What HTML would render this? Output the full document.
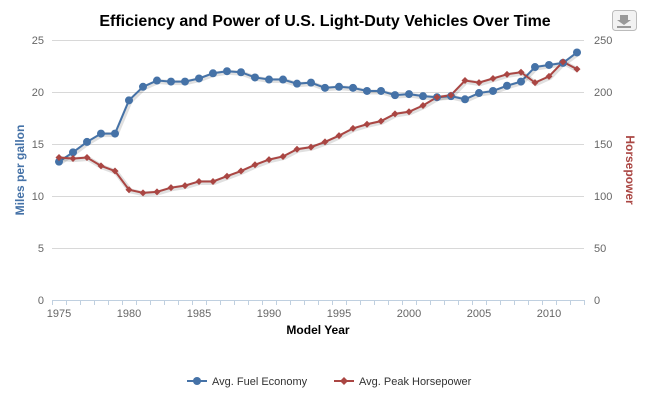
<!DOCTYPE html>
<html><head><style>body{margin:0;background:#fff}svg{display:block;font-family:"Liberation Sans",sans-serif}</style></head>
<body><svg id="s" width="650" height="400" xmlns="http://www.w3.org/2000/svg">
<text x="325" y="26" text-anchor="middle" font-size="16" font-weight="bold" fill="#000">Efficiency and Power of U.S. Light-Duty Vehicles Over Time</text>
<rect x="612.5" y="10.5" width="24" height="20" rx="3" fill="#f2f2f2" stroke="#bbb"/>
<path d="M620 15h8v5h3l-7 5-7-5h3z" fill="#999"/><rect x="617" y="26" width="14" height="2" fill="#999"/>
<g id="grid"></g>
<line x1="52" y1="300.5" x2="584" y2="300.5" stroke="#C0D0E0"/>
<text transform="translate(24,170) rotate(-90)" text-anchor="middle" font-size="12" font-weight="bold" fill="#4572A7">Miles per gallon</text>
<text transform="translate(626,170) rotate(90)" text-anchor="middle" font-size="12" font-weight="bold" fill="#AA4643">Horsepower</text>
<text x="318" y="334" text-anchor="middle" font-size="12" font-weight="bold" fill="#000">Model Year</text>
<g id="ser"></g>
<line x1="187" y1="381" x2="207" y2="381" stroke="#4572A7" stroke-width="2"/><circle cx="197" cy="381" r="4" fill="#4572A7"/>
<text x="212" y="385" font-size="11" fill="#333">Avg. Fuel Economy</text>
<line x1="334" y1="381" x2="354" y2="381" stroke="#AA4643" stroke-width="2"/><path d="M344 377l4 4-4 4-4-4z" fill="#AA4643"/>
<text x="359" y="385" font-size="11" fill="#333">Avg. Peak Horsepower</text>
</svg>
<script>
var NS="http://www.w3.org/2000/svg",g=document.getElementById('grid'),s=document.getElementById('ser');
function el(t,a,p){var e=document.createElementNS(NS,t);for(var k in a)e.setAttribute(k,a[k]);(p||g).appendChild(e);return e}
for(var i=0;i<=5;i++){var y=300-i*52;if(i>0)el('line',{x1:52,x2:584,y1:y+.5,y2:y+.5,stroke:'#D8D8D8'});
var t=el('text',{x:44,y:y+4,'text-anchor':'end','font-size':11,fill:'#666'});t.textContent=i*5;
t=el('text',{x:594,y:y+4,'font-size':11,fill:'#666'});t.textContent=i*50;}
for(var k=0;k<=38;k++){var x=52+k*14;el('line',{x1:x+.5,x2:x+.5,y1:300,y2:305,stroke:'#C0D0E0'})}
for(var yr=1975;yr<=2010;yr+=5){var t=el('text',{x:59+(yr-1975)*14,y:317,'text-anchor':'middle','font-size':11,fill:'#666'});t.textContent=yr}
var mpg=[13.3,14.2,15.2,16.0,16.0,19.2,20.5,21.1,21.0,21.0,21.3,21.8,22.0,21.9,21.4,21.2,21.2,20.8,20.9,20.4,20.5,20.4,20.1,20.1,19.7,19.8,19.6,19.5,19.6,19.3,19.9,20.1,20.6,21.0,22.4,22.6,22.8,23.8];
var hp=[137,136,137,129,124,106,103,104,108,110,114,114,119,124,130,135,138,145,147,152,158,165,169,172,179,181,187,195,197,211,209,213,217,219,209,215,229,222];
function pts(d,sc){return d.map(function(v,i){return [59+i*14,300-v*sc]})}
function line(p,c){var d=p.map(function(q){return q.join(',')}).join(' ');
el('polyline',{points:p.map(function(q){return (q[0]+1)+','+(q[1]+1)}).join(' '),fill:'none',stroke:'rgba(0,0,0,0.12)','stroke-width':5},s);
el('polyline',{points:d,fill:'none',stroke:c,'stroke-width':2},s)}
var a=pts(mpg,10.4),b=pts(hp,1.04);
line(a,'#4572A7');line(b,'#AA4643');
a.forEach(function(q){el('circle',{cx:q[0],cy:q[1],r:4,fill:'#4572A7'},s)});
b.forEach(function(q){el('path',{d:'M'+q[0]+' '+(q[1]-3.5)+'l3.5 3.5-3.5 3.5-3.5-3.5z',fill:'#AA4643'},s)});
</script></body></html>
